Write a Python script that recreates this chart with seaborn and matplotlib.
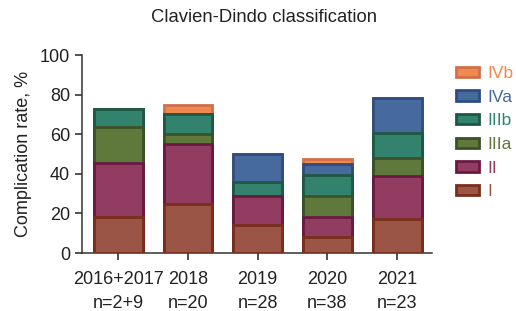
import matplotlib
matplotlib.use("Agg")
import matplotlib.pyplot as plt
import seaborn as sns
import pandas as pd
import numpy as np
from matplotlib.patches import Patch

years = ["2016+2017", "2018", "2019", "2020", "2021"]
ns = ["n=2+9", "n=20", "n=28", "n=38", "n=23"]
grades = ["I", "II", "IIIa", "IIIb", "IVa", "IVb"]
grade_I = [18.2, 25.0, 14.3, 7.9, 17.4]
grade_II = [27.3, 30.0, 14.3, 10.5, 21.7]
grade_IIIa = [18.2, 5.0, 0.0, 10.5, 8.7]
grade_IIIb = [9.1, 10.0, 7.1, 10.5, 13.0]
grade_IVa = [0.0, 0.0, 14.3, 5.3, 17.4]
grade_IVb = [0.0, 5.0, 0.0, 2.6, 0.0]

face = {"I": "#9b5546", "II": "#933c61", "IIIa": "#5f783c",
        "IIIb": "#32826e", "IVa": "#46699e", "IVb": "#f08850"}
edge = {"I": "#7a2e1c", "II": "#6a1a42", "IIIa": "#3b5228",
        "IIIb": "#1f5845", "IVa": "#2e4d7e", "IVb": "#d0704a"}

sns.set_theme(style="ticks")
plt.rcParams["font.family"] = ["Liberation Sans", "DejaVu Sans"]

series = {"I": grade_I, "II": grade_II, "IIIa": grade_IIIa,
          "IIIb": grade_IIIb, "IVa": grade_IVa, "IVb": grade_IVb}
labels = [f"{y}\n{n}" for y, n in zip(years, ns)]
cum = np.zeros(len(years))
cums = {}
for g in grades:
    cum = cum + np.array(series[g])
    cums[g] = cum.copy()

fig = plt.figure(figsize=(5.16, 3.11), dpi=100)
ax = fig.add_axes([82/516, 1-253/311, 350/516, 198/311])

for i, g in enumerate(reversed(grades)):
    df = pd.DataFrame({"label": labels, "val": cums[g]})
    sns.barplot(data=df, x="label", y="val", ax=ax, color=face[g],
                edgecolor=edge[g], linewidth=2.0, width=0.7,
                saturation=1, zorder=2 + i)

ax.set_xlim(-0.52, 4.5)
ax.set_ylim(0, 100)
ax.set_yticks([0, 20, 40, 60, 80, 100])
ax.set_xlabel("")
ax.set_ylabel("Complication rate, %", fontsize=13, color="#222222", labelpad=6)
ax.tick_params(axis="both", labelsize=13, colors="#222222", length=5, width=1.1)
ax.tick_params(axis="x", pad=8)
for lab in ax.get_xticklabels():
    lab.set_linespacing(1.5)
sns.despine(ax=ax)
for s in ["left", "bottom"]:
    ax.spines[s].set_color("#333333")
    ax.spines[s].set_linewidth(1.1)

fig.text(264/516, 1-17/311, "Clavien-Dindo classification", ha="center",
         va="center", fontsize=13.3, color="#222222")

handles = [Patch(facecolor=face[g], edgecolor=edge[g], linewidth=2.0, label=g)
           for g in reversed(grades)]
leg = fig.legend(handles=handles, loc="upper left",
                 bbox_to_anchor=(456/516, 1-66/311), frameon=False,
                 fontsize=12.5, handlelength=1.3, handleheight=0.55,
                 handletextpad=0.5, labelspacing=0.5, borderaxespad=0,
                 borderpad=0)
for t, g in zip(leg.get_texts(), reversed(grades)):
    t.set_color(face[g])

fig.savefig("out.png", dpi=100)
